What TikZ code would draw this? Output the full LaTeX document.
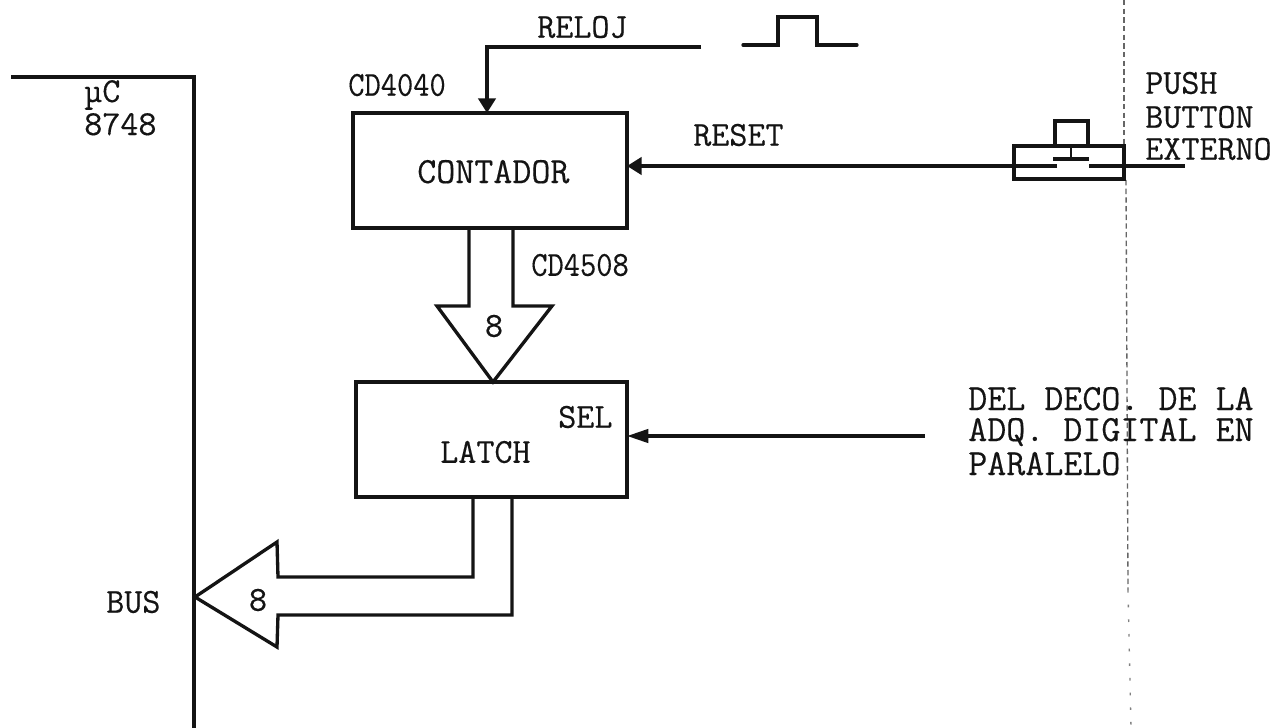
\documentclass[tikz,border=0pt]{standalone}
\usepackage{graphicx}
\usepackage{fontspec}
\setmonofont[FakeBold=0.35]{Latin Modern Mono}
\usetikzlibrary{arrows.meta}
\colorlet{ink}{black!92}
\tikzset{
 ln/.style={line width=2.5pt,ink,line cap=round,line join=miter},
 arr/.style={ln,line cap=butt,-{Triangle[length=11pt,width=13pt]}},
 selarr/.style={ln,line cap=butt,-{Triangle[length=16pt,width=10pt]}},
 lbl/.style={inner sep=0pt,font=\ttfamily\fontsize{26.3}{24.75}\selectfont,ink,align=left,anchor=west},
 big/.style={lbl,anchor=base west,font=\ttfamily\fontsize{27.7}{24.4}\selectfont},
 blockbox/.style={draw,ln,inner sep=0pt,outer sep=0pt},
 crease/.style={black!60,line width=1pt,dash pattern=on 4pt off 2.5pt},
 sparse/.style={black!50,line width=1pt,dash pattern=on 2pt off 9pt}
}
\newcommand{\narrowtxt}[1]{\scalebox{0.9}[1]{#1}}
\begin{document}
\begin{tikzpicture}[x=0.75pt,y=-0.75pt]
\useasboundingbox (0,0) rectangle (1278,728);
\fill[white] (0,0) rectangle (1278,728);
% crease
\draw[crease] (1124,0) -- (1124,146);
\draw[crease] (1126,180) -- (1128,590);
\draw[sparse] (1128,590) -- (1131,728);
% uC edge
\coordinate (uca) at (11,77);
\coordinate (ucb) at (194,77);
\coordinate (ucc) at (194,728);
\draw[ln,line cap=butt] (uca) -- (ucb) -- (ucc);
\node[lbl,anchor=base west] (uc) at (84,102) {µC};
\node[lbl,anchor=base west] (ucn) at (84,135) {8748};
% blocks
\node[blockbox,minimum width=205.5pt,minimum height=86.25pt] (contbox) at (490,170.5) {};
\node[blockbox,minimum width=203.25pt,minimum height=86.25pt] (latchbox) at (491.5,439.5) {};
\node[big] (cont) at (417,183) {CONTADOR};
\node[lbl] (latch) at (440,452) {LATCH};
\node[lbl] (sel) at (558,417) {SEL};
\node[lbl] (cd40) at (348,85) {\narrowtxt{CD4040}};
\node[lbl] (cd45) at (531,265) {\narrowtxt{CD4508}};
\node[lbl] (reloj) at (537,27) {RELOJ};
\node[lbl] (reset) at (693,135) {RESET};
\node[lbl] (bus) at (106,602) {BUS};
\node[lbl,anchor=center] (n8a) at (494,326) {8};
\node[lbl,anchor=center] (n8b) at (258,600) {8};
\node[lbl] (pb1) at (1145,83) {PUSH};
\node[lbl] (pb2) at (1145,117) {BUTTON};
\node[lbl] (pb3) at (1145,149) {EXTERNO};
\node[big] (del1) at (968,410) {DEL DECO. DE LA};
\node[big] (del2) at (968,441) {ADQ. DIGITAL EN};
\node[big] (del3) at (968,475) {PARALELO};
% clock
\coordinate (r0) at (701,47);
\coordinate (r1) at (487,47);
\draw[arr] (r0) -- (r1) -- (r1 |- contbox.north);
\draw[ln] (743,45) -- (778,45) -- (778,17) -- (817,17) -- (817,45) -- (857,45);
% push button
\node[blockbox,minimum width=82.5pt,minimum height=24.75pt] (btn) at (1069,162.5) {};
\coordinate (capl) at (1055,146);
\coordinate (capr) at (1088,146);
\draw[ln,line cap=butt] (capl) -- (1055,121) -- (1088,121) -- (capr);
\coordinate (stem) at (1071,146);
\draw[ln,line width=1.6pt,line cap=butt] (stem) -- (1071,159);
\draw[ln,line cap=butt] (1053,159) -- (1089,159);
\coordinate (rstl) at (1057,166);
\draw[arr] (rstl) -- (rstl -| contbox.east);
\coordinate (rstr) at (1089,166);
\coordinate (rste) at (1185,166);
\draw[ln,line cap=butt] (rstr) -- (rste);
% sel
\coordinate (s0) at (925,436);
\draw[selarr] (s0) -- (s0 -| latchbox.east);
% 8 down arrow
\coordinate (da) at (469,228);
\coordinate (db) at (513,228);
\coordinate (dtip) at (493,382);
\draw[ln,line cap=butt] (da) -- (469,306) -- (437,306) -- (dtip) -- (552,306) -- (513,306) -- (db);
% bus arrow
\coordinate (ba) at (473,497);
\coordinate (bb) at (512,497);
\coordinate (btip) at (195,597);
\draw[ln,line cap=butt] (ba) -- (473,577) -- (278,577) -- (277,542) -- (btip) -- (277,647) -- (278,615) -- (512,615) -- (bb);
\end{tikzpicture}
\end{document}
